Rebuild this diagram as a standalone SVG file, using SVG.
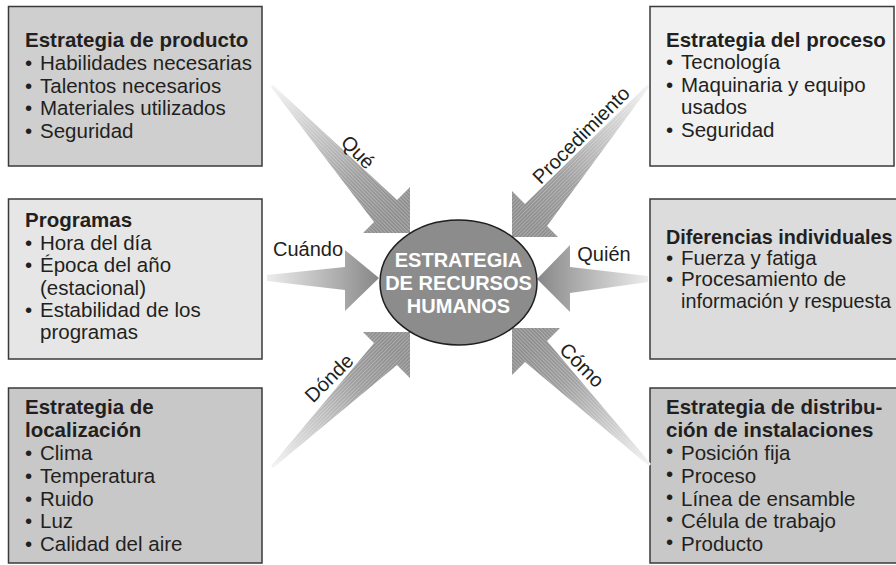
<svg xmlns="http://www.w3.org/2000/svg" width="896" height="565" viewBox="0 0 896 565">
<style>
  text { font-family: "Liberation Sans", Arial, Helvetica, sans-serif; font-size: 20.5px; fill: #231f20; }
  .t { font-weight: bold; }
  .fit { font-size: 19.8px; }
  .box { stroke: #3a3a3a; stroke-width: 1.5; }
  .ctr { font-weight: bold; fill: #ffffff; text-anchor: middle; font-size: 20px; }
  .lbl { text-anchor: middle; font-size: 20px; }
</style>
<defs>
  <pattern id="hatchA" width="2.6" height="2.6" patternUnits="userSpaceOnUse" patternTransform="rotate(45)">
    <rect width="2.6" height="1.1" fill="#ffffff" fill-opacity="0.3"/>
  </pattern>
  <pattern id="hatchB" width="2.6" height="2.6" patternUnits="userSpaceOnUse" patternTransform="rotate(-45)">
    <rect width="2.6" height="1.1" fill="#ffffff" fill-opacity="0.3"/>
  </pattern>
  <linearGradient id="gQue" gradientUnits="userSpaceOnUse" x1="272" y1="86" x2="395" y2="215">
    <stop offset="0" stop-color="#f2f2f2"/><stop offset="0.7" stop-color="#9a9a9a"/><stop offset="1" stop-color="#8a8a8a"/>
  </linearGradient>
  <linearGradient id="gProc" gradientUnits="userSpaceOnUse" x1="648" y1="86" x2="525" y2="215">
    <stop offset="0" stop-color="#f2f2f2"/><stop offset="0.7" stop-color="#9a9a9a"/><stop offset="1" stop-color="#8a8a8a"/>
  </linearGradient>
  <linearGradient id="gDonde" gradientUnits="userSpaceOnUse" x1="272" y1="467" x2="395" y2="350">
    <stop offset="0" stop-color="#f2f2f2"/><stop offset="0.7" stop-color="#9a9a9a"/><stop offset="1" stop-color="#8a8a8a"/>
  </linearGradient>
  <linearGradient id="gComo" gradientUnits="userSpaceOnUse" x1="650" y1="465" x2="525" y2="350">
    <stop offset="0" stop-color="#f2f2f2"/><stop offset="0.7" stop-color="#9a9a9a"/><stop offset="1" stop-color="#8a8a8a"/>
  </linearGradient>
  <linearGradient id="gCuando" gradientUnits="userSpaceOnUse" x1="267" y1="0" x2="379" y2="0">
    <stop offset="0" stop-color="#ececec"/><stop offset="0.7" stop-color="#a6a6a6"/><stop offset="1" stop-color="#878787"/>
  </linearGradient>
  <linearGradient id="gQuien" gradientUnits="userSpaceOnUse" x1="648" y1="0" x2="537" y2="0">
    <stop offset="0" stop-color="#ececec"/><stop offset="0.7" stop-color="#a6a6a6"/><stop offset="1" stop-color="#878787"/>
  </linearGradient>
</defs>
<rect width="896" height="565" fill="#ffffff"/>

<g id="box-producto">
  <rect class="box" x="8.5" y="6.5" width="253.5" height="159.5" fill="#cfcfcf"/>
  <text class="t" x="25" y="47">Estrategia de producto</text>
  <text x="25" y="70">•</text><text x="40" y="70">Habilidades necesarias</text>
  <text x="25" y="92.5">•</text><text x="40" y="92.5">Talentos necesarios</text>
  <text x="25" y="115">•</text><text x="40" y="115">Materiales utilizados</text>
  <text x="25" y="137.5">•</text><text x="40" y="137.5">Seguridad</text>
</g>

<g id="box-proceso">
  <rect class="box" x="650" y="6.5" width="244" height="159.5" fill="#f1f1f1"/>
  <text class="t" x="666" y="47">Estrategia del proceso</text>
  <text x="666" y="69">•</text><text x="681" y="69">Tecnología</text>
  <text x="666" y="91.5">•</text><text x="681" y="91.5">Maquinaria y equipo</text>
  <text x="681" y="114">usados</text>
  <text x="666" y="136.5">•</text><text x="681" y="136.5">Seguridad</text>
</g>

<g id="box-programas">
  <rect class="box" x="8.5" y="199" width="253.5" height="160" fill="#e6e6e6"/>
  <text class="t" x="25" y="227">Programas</text>
  <text x="25" y="250">•</text><text x="40" y="250">Hora del día</text>
  <text x="25" y="272">•</text><text x="40" y="272">Época del año</text>
  <text x="40" y="295">(estacional)</text>
  <text x="25" y="317">•</text><text x="40" y="317">Estabilidad de los</text>
  <text x="40" y="338.5">programas</text>
</g>

<g id="box-diferencias">
  <rect class="box" x="650" y="199" width="260" height="160" fill="#dcdcdc"/>
  <text class="t fit" x="666" y="243.5">Diferencias individuales</text>
  <text x="666" y="264.5">•</text><text x="681" y="264.5">Fuerza y fatiga</text>
  <text x="666" y="286">•</text><text x="681" y="286">Procesamiento de</text>
  <text class="fit" x="681" y="308">información y respuesta</text>
</g>

<g id="box-localizacion">
  <rect class="box" x="8.5" y="388" width="253.5" height="175" fill="#c8c8c8"/>
  <text class="t" x="25" y="414">Estrategia de</text>
  <text class="t" x="25" y="436.5">localización</text>
  <text x="25" y="460">•</text><text x="40" y="460">Clima</text>
  <text x="25" y="482.5">•</text><text x="40" y="482.5">Temperatura</text>
  <text x="25" y="505.5">•</text><text x="40" y="505.5">Ruido</text>
  <text x="25" y="528">•</text><text x="40" y="528">Luz</text>
  <text x="25" y="551">•</text><text x="40" y="551">Calidad del aire</text>
</g>

<g id="box-distribucion">
  <rect class="box" x="650" y="388" width="260" height="175" fill="#c8c8c8"/>
  <text class="t" x="666" y="414">Estrategia de distribu-</text>
  <text class="t" x="666" y="436.5">ción de instalaciones</text>
  <text x="666" y="458">•</text><text x="681" y="460">Posición fija</text>
  <text x="666" y="480.5">•</text><text x="681" y="482.5">Proceso</text>
  <text x="666" y="503.5">•</text><text x="681" y="505.5">Línea de ensamble</text>
  <text x="666" y="526">•</text><text x="681" y="528">Célula de trabajo</text>
  <text x="666" y="549">•</text><text x="681" y="551">Producto</text>
</g>

<g id="connectors">
  <g id="arrow-que">
    <polygon points="271,87 374,222 363,233 410,233 410,187 397,200 273,85" fill="url(#gQue)"/>
    <polygon points="271,87 374,222 363,233 410,233 410,187 397,200 273,85" fill="url(#hatchA)"/>
    <text class="lbl" transform="translate(358,152) rotate(45)" x="0" y="7">Qué</text>
  </g>
  <g id="arrow-procedimiento">
    <polygon points="649,87 547,226 558,237 512,237 512,191 525,204 647,85" fill="url(#gProc)"/>
    <polygon points="649,87 547,226 558,237 512,237 512,191 525,204 647,85" fill="url(#hatchB)"/>
    <text class="lbl" transform="translate(581,135) rotate(-45)" x="0" y="7">Procedimiento</text>
  </g>
  <g id="arrow-donde">
    <polygon points="271,466 374,343 363,332 410,332 410,378 397,365 273,468" fill="url(#gDonde)"/>
    <polygon points="271,466 374,343 363,332 410,332 410,378 397,365 273,468" fill="url(#hatchB)"/>
    <text class="lbl" transform="translate(329,378) rotate(-45)" x="0" y="7">Dónde</text>
  </g>
  <g id="arrow-como">
    <polygon points="649,466 525,362 512,375 512,328 560,328 547,341 651,464" fill="url(#gComo)"/>
    <polygon points="649,466 525,362 512,375 512,328 560,328 547,341 651,464" fill="url(#hatchA)"/>
    <text class="lbl" transform="translate(582,365) rotate(45)" x="0" y="7">Cómo</text>
  </g>
  <g id="arrow-cuando">
    <polygon points="267,275 345,267 345,250 379,278 345,311 345,290 267,281" fill="url(#gCuando)"/>
    <text class="lbl" x="308" y="256">Cuándo</text>
  </g>
  <g id="arrow-quien">
    <polygon points="648,276 570,267 570,245 537,279 570,312 570,293 648,282" fill="url(#gQuien)"/>
    <text class="lbl" x="604" y="261">Quién</text>
  </g>
</g>

<g id="center">
  <ellipse cx="458.5" cy="282.5" rx="78.5" ry="62.5" fill="#8c8c8c" stroke="#1e1e1e" stroke-width="1.5"/>
  <text class="ctr" x="458.5" y="267">ESTRATEGIA</text>
  <text class="ctr" x="458.5" y="290">DE RECURSOS</text>
  <text class="ctr" x="458.5" y="313">HUMANOS</text>
</g>
</svg>
